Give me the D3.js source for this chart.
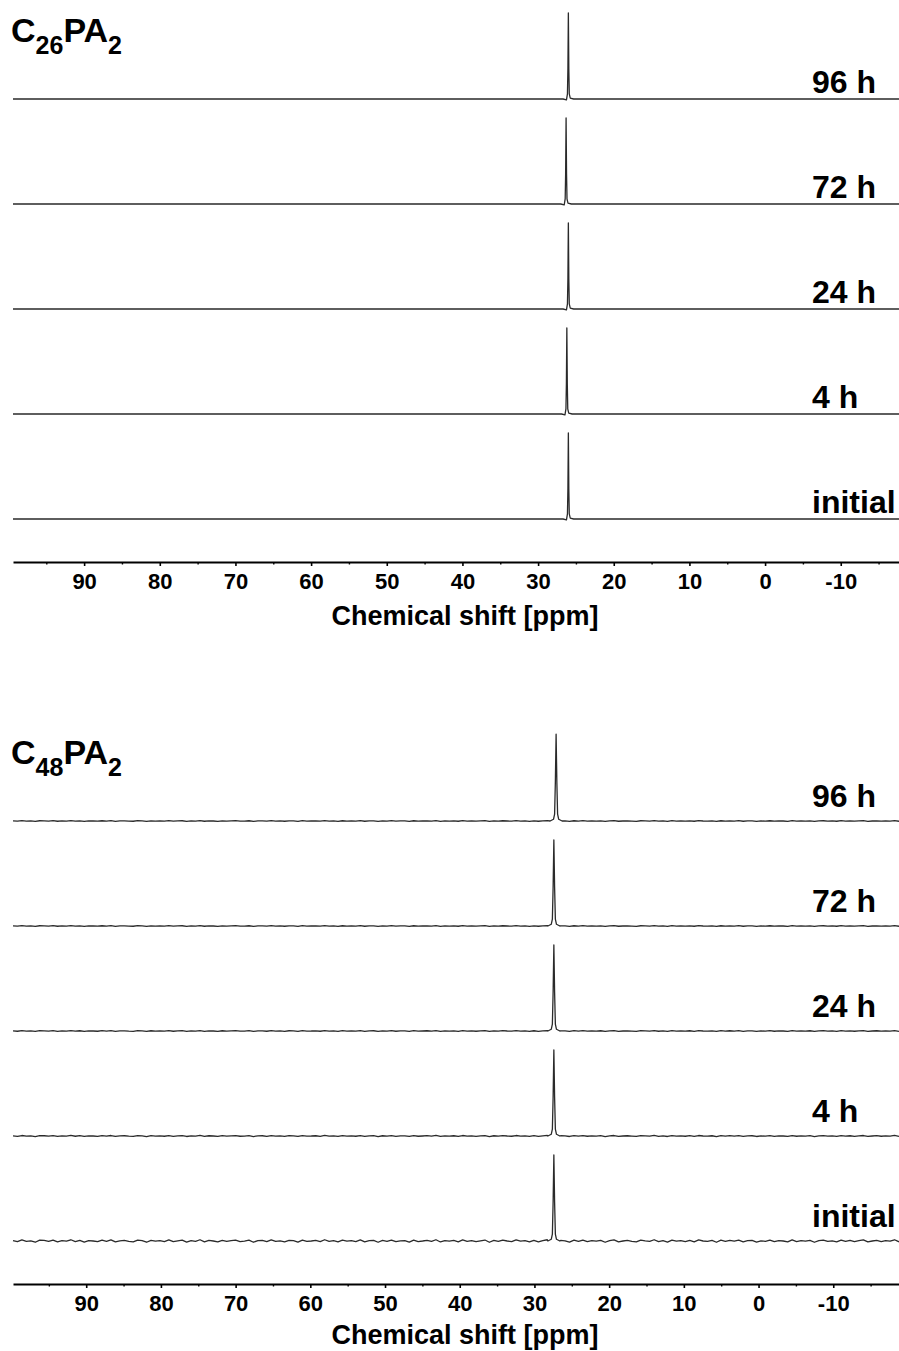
<!DOCTYPE html>
<html>
<head>
<meta charset="utf-8">
<script src="https://cdn.jsdelivr.net/npm/d3@7"></script>
<style>
  body { margin: 0; background: #fff; }
  text { font-family: "Liberation Sans", Arial, sans-serif; font-weight: bold; fill: #000; }
</style>
</head>
<body>
<div id="chart"></div>
<script>
// ---- data ----
const timeLabels = ["96 h", "72 h", "24 h", "4 h", "initial"];

const samples = ["C26PA2", "C48PA2"];
const titleParts = [["C", "26", "PA", "2"], ["C", "48", "PA", "2"]];

// peak position (ppm) per trace, top to bottom
const peakC26 = [26.0, 26.3, 26.0, 26.2, 26.0];
const peakC48 = [27.1, 27.4, 27.4, 27.4, 27.4];

// relative peak heights
const heightC26 = [1.0, 1.0, 1.0, 1.0, 1.0];
const heightC48 = [1.01, 1.0, 1.0, 1.0, 1.0];

// baseline noise amplitude per trace (fraction of peak)
const noiseC26 = [0.0, 0.0, 0.0, 0.0, 0.0];
const noiseC48 = [0.005, 0.005, 0.006, 0.007, 0.016];

// peak line shapes: [ppm offset, relative intensity]
const shapeC26 = [[-0.7, 0], [-0.25, 0.01], [-0.12, 0.06], [-0.06, 0.35], [0, 1], [0.06, 0.35], [0.12, 0.06], [0.25, -0.01], [0.7, 0]];
const shapeC48 = [[-0.8, 0], [-0.35, 0.02], [-0.2, 0.08], [-0.1, 0.45], [0, 1], [0.1, 0.45], [0.2, 0.08], [0.35, 0.02], [0.8, 0]];

// baseline wiggle, unit amplitude
const baselineNoise = [
  0.3, -0.5, 0.8, -0.2, 0.1, -0.9, 0.6, 0.4, -0.3, 0.7,
  -0.6, 0.2, -0.1, 0.9, -0.4, 0.5, -0.8, 0.3, 0.0, -0.5,
  0.6, -0.2, 0.8, -0.7, 0.1, 0.4, -0.3, -0.6, 0.7, 0.2,
  -0.9, 0.5, -0.1, 0.3, -0.4, 0.8, -0.5, 0.1, 0.6, -0.8,
  0.2, -0.3, 0.9, -0.6, 0.4, 0.0, -0.7, 0.5, -0.2, 0.3,
  0.7, -0.4, -0.1, 0.6, -0.9, 0.2, 0.4, -0.5, 0.8, -0.3,
  0.1, -0.6, 0.5, 0.3, -0.8, 0.7, -0.2, 0.0, 0.4, -0.5,
  0.9, -0.3, 0.2, -0.7, 0.6, -0.1, 0.3, -0.4, 0.8, -0.6,
  0.2, 0.5, -0.9, 0.4, -0.2, 0.7, -0.5, 0.1, 0.3, -0.8,
  0.6, -0.4, 0.0, 0.5, -0.3, 0.9, -0.7, 0.2, -0.1, 0.4,
  -0.6, 0.8, -0.2, 0.3, -0.5, 0.1, 0.7, -0.9, 0.4, -0.3,
  0.6, 0.0, -0.4, 0.8, -0.1, 0.2, -0.7, 0.5, -0.6, 0.3,
  0.9, -0.2, -0.5, 0.4, 0.1, -0.8, 0.6, -0.3, 0.7, -0.4,
  0.2, -0.1, 0.5, -0.9, 0.3, 0.8, -0.6, 0.0, 0.4, -0.2,
  -0.7, 0.6, 0.1, -0.3, 0.9, -0.5, 0.2, -0.8, 0.7, -0.1,
  0.3, -0.4, 0.5, -0.6, 0.8, 0.0, -0.2, 0.4, -0.9, 0.6,
  -0.3, 0.5, -0.1, 0.7, -0.6, 0.2, 0.4, -0.8, 0.1, -0.2,
  0.6, -0.5, 0.3, 0.0, -0.7, 0.8, -0.4, 0.2, -0.1, 0.5,
  -0.9, 0.3, 0.6, -0.2, 0.1, -0.6, 0.7, -0.3, 0.4, -0.5,
  0.2, 0.8, -0.7, 0.0, 0.5, -0.4, 0.3, -0.1, 0.9, -0.6
];

const majorTicks = [90, 80, 70, 60, 50, 40, 30, 20, 10, 0, -10];
const minorTicks = [95, 85, 75, 65, 55, 45, 35, 25, 15, 5, -5, -15];

const xDomains = [[99.4, -17.7], [99.8, -18.8]];
const axisTitle = "Chemical shift [ppm]";

// ---- layout ----
const width = 899, height = 1351;
const panelTop = [0, 722];
const axisY = 562;
const traceGap = 105, firstBase = 99, peakPx = 86;
const labelOffset = [6, 14];

const svg = d3.select("#chart").append("svg")
    .attr("width", width)
    .attr("height", height)
    .style("background", "#fff");

const panelData = [
  { peaks: peakC26, heights: heightC26, noise: noiseC26, shape: shapeC26 },
  { peaks: peakC48, heights: heightC48, noise: noiseC48, shape: shapeC48 }
];

panelData.forEach(function(p, pi) {
  const g = svg.append("g")
      .attr("transform", "translate(0," + panelTop[pi] + ")");

  const x = d3.scaleLinear()
      .domain(xDomains[pi])
      .range([13, width]);

  const line = d3.line()
      .x(function(d) { return x(d[0]); })
      .y(function(d) { return d[2](d[1]); });

  timeLabels.forEach(function(lab, i) {
    const base = firstBase + i * traceGap;
    const y = d3.scaleLinear().domain([0, 1]).range([base, base - peakPx]);
    const dom = xDomains[pi];
    const step = (dom[0] - dom[1]) / (baselineNoise.length - 1);
    const pts = [];
    baselineNoise.forEach(function(v, k) {
      const ppm = dom[0] - k * step;
      if (Math.abs(ppm - p.peaks[i]) > 0.8) pts.push([ppm, v * p.noise[i], y]);
    });
    p.shape.forEach(function(s) {
      pts.push([p.peaks[i] + s[0], s[1] * p.heights[i], y]);
    });
    pts.sort(function(a, b) { return b[0] - a[0]; });

    g.append("path")
        .attr("d", line(pts))
        .attr("fill", "none")
        .attr("stroke", "#2a2a2a")
        .attr("stroke-width", 1.3)
        .attr("stroke-linejoin", "round");

    g.append("text")
        .attr("x", 812)
        .attr("y", base - labelOffset[pi])
        .attr("font-size", 32)
        .text(lab);
  });

  // axis with major + minor ticks
  const axis = d3.axisBottom(x)
      .tickValues(majorTicks)
      .tickFormat(function(d) { return String(d); })
      .tickSize(4)
      .tickSizeOuter(0)
      .tickPadding(7);

  const ax = g.append("g")
      .attr("transform", "translate(0," + axisY + ")")
      .call(axis);
  ax.select(".domain").attr("stroke-width", 2.2).attr("stroke", "#000");
  ax.selectAll(".tick line").attr("stroke-width", 1.6);
  ax.selectAll(".tick text")
      .attr("font-size", 22)
      .attr("font-family", "Liberation Sans, Arial, sans-serif")
      .attr("font-weight", "bold");

  const minor = d3.axisBottom(x)
      .tickValues(minorTicks)
      .tickFormat("")
      .tickSize(2.5)
      .tickSizeOuter(0);
  const mx = g.append("g")
      .attr("transform", "translate(0," + axisY + ")")
      .call(minor);
  mx.select(".domain").remove();
  mx.selectAll(".tick line").attr("stroke-width", 1.4);

  g.append("text")
      .attr("x", 465)
      .attr("y", axisY + 63 - pi * 3)
      .attr("text-anchor", "middle")
      .attr("font-size", 27)
      .text(axisTitle);

  // sample name with subscripts
  const tp = titleParts[pi];
  const t = g.append("text")
      .attr("x", 11)
      .attr("y", 42)
      .attr("font-size", 34);
  t.append("tspan").text(tp[0]);
  t.append("tspan").attr("font-size", 25).attr("dy", 12).text(tp[1]);
  t.append("tspan").attr("dy", -12).text(tp[2]);
  t.append("tspan").attr("font-size", 25).attr("dy", 12).text(tp[3]);
});
</script>
</body>
</html>
